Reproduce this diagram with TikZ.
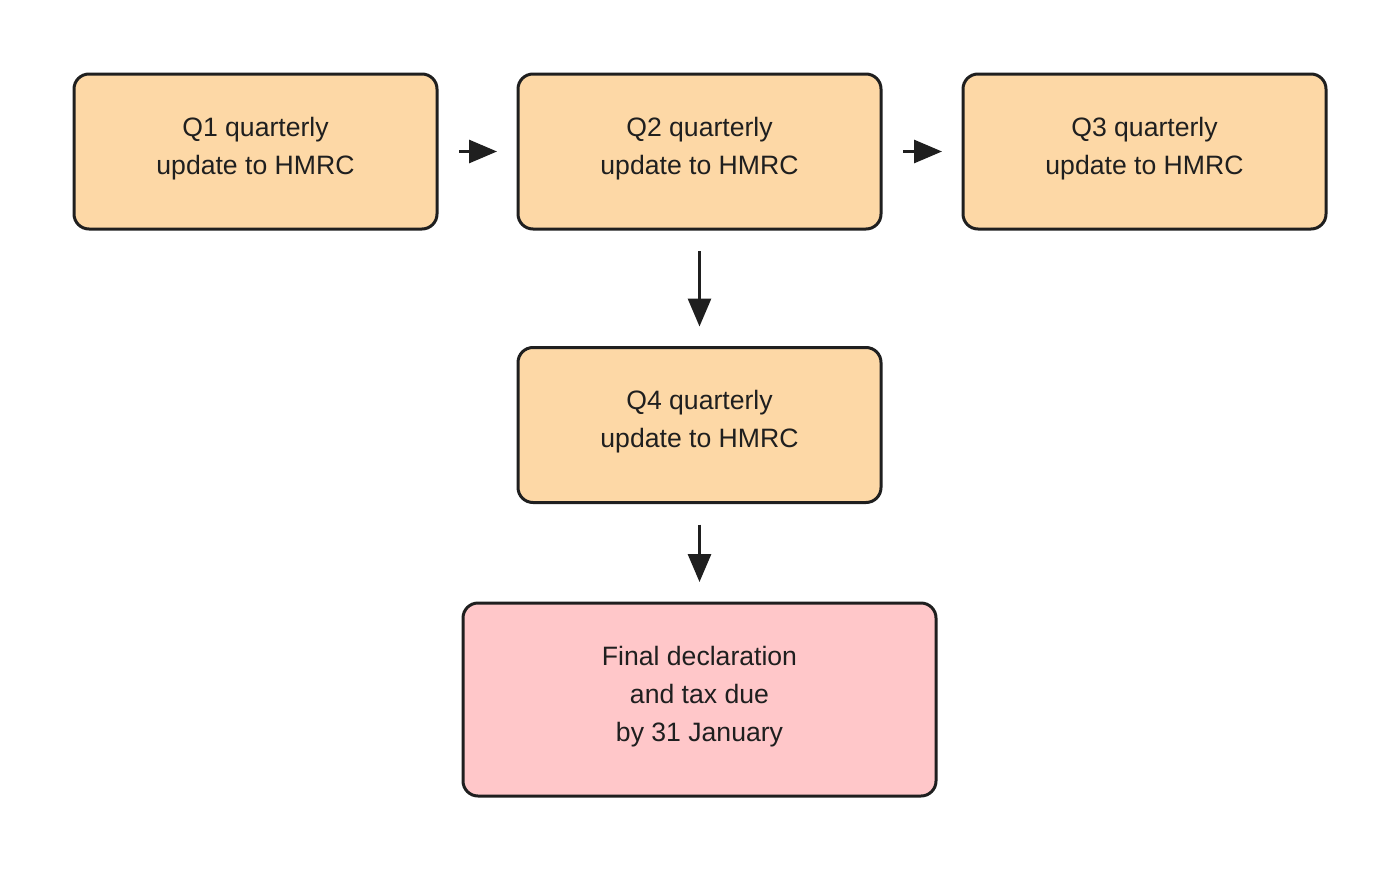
\documentclass[tikz,border=0pt]{standalone}
\usepackage{fontspec}
\setmainfont{Liberation Sans}
\usetikzlibrary{arrows.meta}
\definecolor{qfill}{HTML}{FDD8A6}
\definecolor{ffill}{HTML}{FFC7C9}
\definecolor{ink}{HTML}{1F1F1F}
\begin{document}
\begin{tikzpicture}[x=1pt,y=-1pt,
  qbox/.style={draw=ink, line width=3pt, rounded corners=15pt, fill=qfill,
    minimum width=363pt, minimum height=155pt, outer sep=0pt, inner sep=0pt,
    text depth=11.6pt,
    align=center, text=ink, font=\fontsize{26.6}{38}\selectfont},
  fbox/.style={qbox, fill=ffill, minimum width=473pt, minimum height=193pt},
  conn/.style={draw=ink, line width=3pt,
    -{Triangle[length=28pt,width=23pt]}, shorten <=22pt, shorten >=21pt}]
\useasboundingbox (0,0) rectangle (1400,870);
\node[qbox] (q1) at (255.5,151.5) {Q1 quarterly\\update to HMRC};
\node[qbox] (q2) at (699.5,151.5) {Q2 quarterly\\update to HMRC};
\node[qbox] (q3) at (1144.5,151.5) {Q3 quarterly\\update to HMRC};
\node[qbox] (q4) at (699.5,425) {Q4 quarterly\\update to HMRC};
\node[fbox] (fin) at (699.5,699.5) {Final declaration\\and tax due\\by 31 January};
\draw[conn] (q1.east) -- (q2.west);
\draw[conn] (q2.east) -- (q3.west);
\draw[conn] (q2.south) -- (q4.north);
\draw[conn] (q4.south) -- (fin.north);
\end{tikzpicture}
\end{document}
